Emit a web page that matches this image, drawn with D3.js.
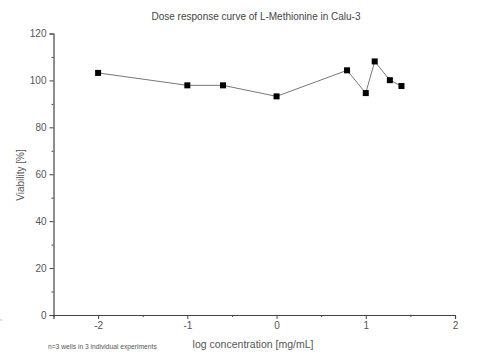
<!DOCTYPE html>
<html>
<head>
<meta charset="utf-8">
<script src="https://cdn.jsdelivr.net/npm/d3@7"></script>
<style>
  html, body { margin: 0; padding: 0; background: #fff; }
  svg { display: block; font-family: "Liberation Sans", Arial, sans-serif; }
</style>
</head>
<body>
<svg id="chart" width="488" height="356"></svg>
<script>
// log10 concentration [mg/mL]
const logConc = [-2, -1, -0.6, 0, 0.79, 1, 1.1, 1.27, 1.4];
// mean viability [%]
const viability = [103.2, 97.9, 97.9, 93.2, 104.3, 94.6, 108.1, 100.1, 97.6];
const xTicks = [-2, -1, 0, 1, 2];
const xMinor = [-2.5, -1.5, -0.5, 0.5, 1.5];
const yTicks = [0, 20, 40, 60, 80, 100, 120];
const yMinor = [10, 30, 50, 70, 90, 110];

const svg = d3.select("#chart");
const plotLeft = 53.5, plotRight = 455, plotTop = 33.5, plotBottom = 315;

const x = d3.scaleLinear().domain([-2.5, 2]).range([plotLeft, plotRight]);
const y = d3.scaleLinear().domain([0, 120]).range([plotBottom, plotTop]);

const axisColor = "#444";
const textColor = "#555";

// x axis (plain hyphen for negative labels)
const gx = svg.append("g").attr("transform", `translate(0,${plotBottom})`);
gx.call(d3.axisBottom(x).tickValues(xTicks).tickSize(4).tickPadding(3)
  .tickFormat(d => String(d)));
gx.append("g").call(d3.axisBottom(x).tickValues(xMinor).tickSize(2).tickFormat(""))
  .select(".domain").remove();

// y axis
const gy = svg.append("g").attr("transform", `translate(${plotLeft},0)`);
gy.call(d3.axisLeft(y).tickValues(yTicks).tickSize(4).tickPadding(3));
gy.append("g").call(d3.axisLeft(y).tickValues(yMinor).tickSize(2).tickFormat(""))
  .select(".domain").remove();

svg.selectAll(".domain").attr("stroke", axisColor).attr("stroke-width", 1.2);
svg.selectAll(".tick line").attr("stroke", axisColor);
svg.selectAll(".tick text").attr("fill", textColor).attr("font-size", 10)
  .attr("font-family", "Liberation Sans, Arial, sans-serif");

// connecting line
const pts = logConc.map((c, i) => [c, viability[i]]);
svg.append("path")
  .datum(pts)
  .attr("fill", "none")
  .attr("stroke", "#777")
  .attr("stroke-width", 1)
  .attr("d", d3.line().x(d => x(d[0])).y(d => y(d[1])));

// square markers
const s = 6;
svg.append("g").selectAll("rect").data(pts).join("rect")
  .attr("x", d => x(d[0]) - s / 2)
  .attr("y", d => y(d[1]) - s / 2)
  .attr("width", s).attr("height", s)
  .attr("fill", "#000");

// title
svg.append("text")
  .attr("x", 256).attr("y", 20)
  .attr("text-anchor", "middle")
  .attr("font-size", 10).attr("fill", "#444")
  .text("Dose response curve of L-Methionine in Calu-3");

// axis titles
svg.append("text")
  .attr("x", 253).attr("y", 348)
  .attr("text-anchor", "middle")
  .attr("font-size", 10.5).attr("fill", textColor)
  .text("log concentration [mg/mL]");

svg.append("text")
  .attr("transform", "translate(24,175) rotate(-90)")
  .attr("text-anchor", "middle")
  .attr("font-size", 10).attr("fill", textColor)
  .text("Viability [%]");

// footnote
svg.append("text")
  .attr("x", 48).attr("y", 349)
  .attr("font-size", 6.7).attr("fill", "#555")
  .text("n=3 wells in 3 individual experiments");

svg.append("text")
  .attr("x", 0).attr("y", 320)
  .attr("font-size", 7).attr("fill", "#777")
  .text(",");
</script>
</body>
</html>
